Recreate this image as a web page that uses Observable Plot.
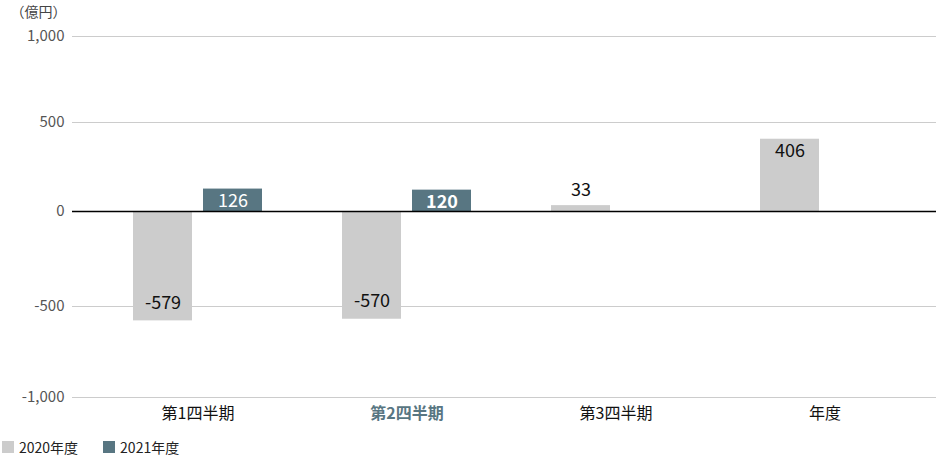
<!DOCTYPE html>
<html><head><meta charset="utf-8">
<script src="https://cdn.jsdelivr.net/npm/d3@7"></script>
<script src="https://cdn.jsdelivr.net/npm/@observablehq/plot@0.6"></script>
<style>
body{margin:0;background:#fff;font-family:"Noto Sans CJK JP","Noto Sans",sans-serif;}
#wrap{position:relative;width:936px;height:456px;}
#legend{position:absolute;left:2px;top:437px;display:flex;gap:25px;font-size:14px;color:#222;}
#legend span.item{display:flex;align-items:center;}
#legend i{display:inline-block;width:12px;height:12px;margin-right:5px;}
</style></head>
<body><div id="wrap"><div id="chart"></div><div id="legend"></div></div>
<script>
const categories = ["第1四半期","第2四半期","第3四半期","年度"];
const highlight = "第2四半期";
const series = ["2020年度","2021年度"];
const values2020 = [-579,-570,33,406];
const values2021 = [126,120,null,null];
const yTicks = [-1000,-500,0,500,1000];
const colors = ["#cccccc","#587682"];

const d2020 = categories.map((c,i)=>({cat:c,v:values2020[i]})).filter(d=>d.v!=null);
const d2021 = categories.map((c,i)=>({cat:c,v:values2021[i]})).filter(d=>d.v!=null);
const font = '"Noto Sans CJK JP","Noto Sans",sans-serif';
// uneven spacing of the source's value axis
const warp = d3.scaleLinear().domain([-1000,-500,0,500,1000]).range([-186,-95,0,89,175]);
const fmt = d=>d3.format(",")(d).replace("−","-");

const chart = Plot.plot({
  width:936, height:430,
  marginLeft:72, marginRight:0, marginTop:36, marginBottom:33,
  style:{fontFamily:font, background:"transparent"},
  x:{domain:categories, range:[92,930], padding:0, axis:null},
  y:{transform:warp, domain:[-186,175], axis:null},
  marks:[
    Plot.ruleY(yTicks.filter(t=>t!==0), {stroke:"#cccccc", strokeWidth:1}),
    Plot.text(yTicks, {y:d=>d, text:fmt, frameAnchor:"left", textAnchor:"end", dx:-8, fontSize:15, fill:"#555"}),
    Plot.barY(d2020, {x:"cat", y:"v", fill:colors[0], insetLeft:40, insetRight:110}),
    Plot.barY(d2021, {x:"cat", y:"v", fill:colors[1], insetLeft:110, insetRight:40}),
    Plot.ruleY([0], {stroke:"#000", strokeWidth:1.5}),
    Plot.text(d2020.filter(d=>d.v<0), {x:"cat", y:"v", text:d=>fmt(d.v), dx:-35, dy:-18, fontSize:18, fill:"#111"}),
    Plot.text(d2020.filter(d=>d.v>=100), {x:"cat", y:"v", text:d=>fmt(d.v), dx:-35, dy:12, fontSize:18, fill:"#111"}),
    Plot.text(d2020.filter(d=>d.v>=0 && d.v<100), {x:"cat", y:"v", text:d=>fmt(d.v), dx:-35, dy:-15, fontSize:18, fill:"#111"}),
    Plot.text(d2021.filter(d=>d.cat!==highlight), {x:"cat", y:"v", text:d=>fmt(d.v), dx:35, dy:12, fontSize:18, fill:"#fff"}),
    Plot.text(d2021.filter(d=>d.cat===highlight), {x:"cat", y:"v", text:d=>fmt(d.v), dx:35, dy:12, fontSize:18, fontWeight:"bold", fill:"#fff"}),
    Plot.text(categories.filter(c=>c!==highlight), {x:d=>d, frameAnchor:"bottom", dy:21, fontSize:16, fill:"#111"}),
    Plot.text(categories.filter(c=>c===highlight), {x:d=>d, frameAnchor:"bottom", dy:21, fontSize:16, fontWeight:"bold", fill:"#587682"}),
    Plot.text(["（億円）"], {frameAnchor:"top-left", dx:-62, dy:-29, fontSize:14, fill:"#444", textAnchor:"start"})
  ]
});
document.getElementById("chart").appendChild(chart);

const legend = document.getElementById("legend");
series.forEach((s,i)=>{
  const it = document.createElement("span"); it.className="item";
  const sw = document.createElement("i"); sw.style.background = colors[i];
  it.appendChild(sw); it.appendChild(document.createTextNode(s));
  legend.appendChild(it);
});
</script></body></html>
